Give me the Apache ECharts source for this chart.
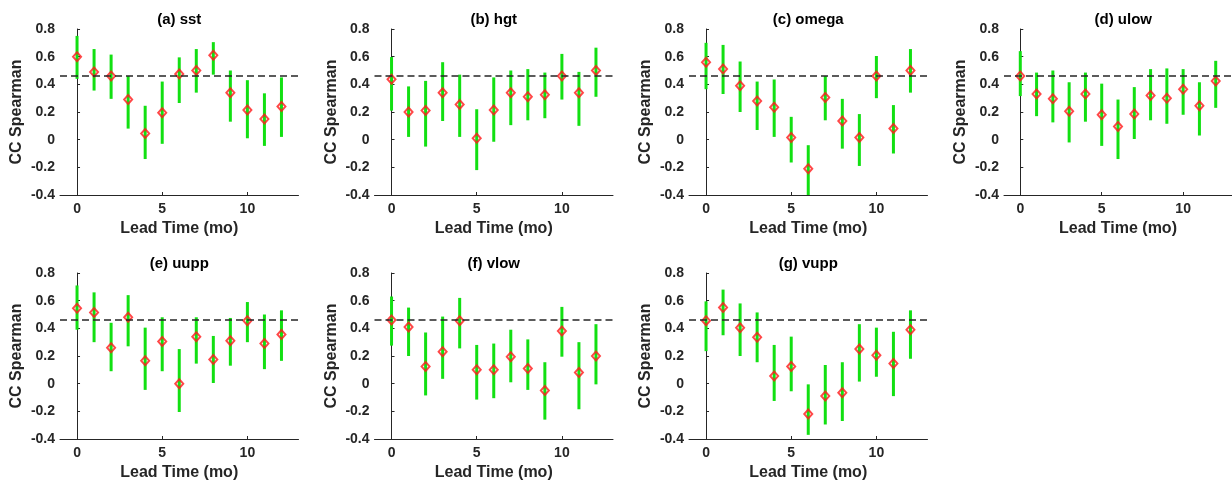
<!DOCTYPE html>
<html>
<head>
<meta charset="utf-8">
<script src="https://cdn.jsdelivr.net/npm/echarts@6/dist/echarts.min.js"></script>
<style>
  html, body { margin: 0; padding: 0; background: #fff; }
  #main { width: 1232px; height: 482px; }
</style>
</head>
<body>
<div id="main"></div>
<script>
// lead times (months) shared by every panel
const leadTimes = [0, 1, 2, 3, 4, 5, 6, 7, 8, 9, 10, 11, 12];
const xTicks = [0, 5, 10];
const threshold = 0.455;

// (a) sst
const sstMid = [0.60, 0.49, 0.46, 0.29, 0.045, 0.195, 0.475, 0.50, 0.61, 0.34, 0.215, 0.15, 0.24];
const sstLo  = [0.44, 0.355, 0.295, 0.08, -0.14, -0.03, 0.265, 0.34, 0.47, 0.13, 0.01, -0.045, 0.02];
const sstHi  = [0.75, 0.655, 0.615, 0.46, 0.245, 0.42, 0.595, 0.655, 0.705, 0.50, 0.43, 0.335, 0.45];

// (b) hgt
const hgtMid = [0.437, 0.20, 0.21, 0.34, 0.255, 0.01, 0.215, 0.34, 0.31, 0.325, 0.46, 0.34, 0.50];
const hgtLo  = [0.21, 0.02, -0.05, 0.135, 0.02, -0.22, -0.015, 0.105, 0.14, 0.155, 0.29, 0.10, 0.31];
const hgtHi  = [0.597, 0.385, 0.425, 0.56, 0.47, 0.22, 0.45, 0.50, 0.51, 0.485, 0.62, 0.49, 0.665];

// (c) omega
const omegaMid = [0.56, 0.51, 0.39, 0.28, 0.235, 0.015, -0.21, 0.305, 0.135, 0.015, 0.46, 0.08, 0.50];
const omegaLo  = [0.365, 0.33, 0.20, 0.07, 0.02, -0.165, -0.42, 0.14, -0.065, -0.19, 0.30, -0.10, 0.34];
const omegaHi  = [0.70, 0.685, 0.565, 0.42, 0.435, 0.165, -0.04, 0.46, 0.295, 0.185, 0.605, 0.25, 0.655];

// (d) ulow
const ulowMid = [0.46, 0.33, 0.295, 0.205, 0.33, 0.18, 0.095, 0.185, 0.32, 0.30, 0.365, 0.245, 0.425];
const ulowLo  = [0.315, 0.17, 0.125, -0.02, 0.13, -0.045, -0.14, 0.005, 0.14, 0.115, 0.18, 0.03, 0.23];
const ulowHi  = [0.64, 0.485, 0.50, 0.415, 0.485, 0.405, 0.29, 0.38, 0.51, 0.515, 0.51, 0.415, 0.57];

// (e) uupp
const uuppMid = [0.545, 0.515, 0.26, 0.48, 0.165, 0.305, 0.0, 0.34, 0.175, 0.31, 0.455, 0.29, 0.355];
const uuppLo  = [0.39, 0.30, 0.09, 0.27, -0.045, 0.09, -0.205, 0.145, 0.005, 0.13, 0.30, 0.105, 0.165];
const uuppHi  = [0.71, 0.66, 0.44, 0.64, 0.405, 0.48, 0.25, 0.48, 0.345, 0.475, 0.59, 0.50, 0.53];

// (f) vlow
const vlowMid = [0.46, 0.41, 0.125, 0.23, 0.455, 0.10, 0.10, 0.195, 0.11, -0.05, 0.38, 0.08, 0.20];
const vlowLo  = [0.275, 0.20, -0.085, 0.035, 0.255, -0.115, -0.105, 0.01, -0.045, -0.26, 0.195, -0.185, -0.005];
const vlowHi  = [0.63, 0.55, 0.37, 0.485, 0.62, 0.28, 0.29, 0.39, 0.32, 0.155, 0.555, 0.30, 0.43];

// (g) vupp
const vuppMid = [0.455, 0.55, 0.405, 0.335, 0.055, 0.125, -0.22, -0.09, -0.065, 0.25, 0.205, 0.145, 0.39];
const vuppLo  = [0.235, 0.35, 0.20, 0.155, -0.125, -0.055, -0.37, -0.295, -0.27, 0.015, 0.05, -0.09, 0.18];
const vuppHi  = [0.595, 0.68, 0.58, 0.515, 0.28, 0.34, -0.005, 0.135, 0.155, 0.43, 0.405, 0.375, 0.53];

const panels = [
  { title: '(a) sst',   mid: sstMid,   lo: sstLo,   hi: sstHi },
  { title: '(b) hgt',   mid: hgtMid,   lo: hgtLo,   hi: hgtHi },
  { title: '(c) omega', mid: omegaMid, lo: omegaLo, hi: omegaHi },
  { title: '(d) ulow',  mid: ulowMid,  lo: ulowLo,  hi: ulowHi },
  { title: '(e) uupp',  mid: uuppMid,  lo: uuppLo,  hi: uuppHi },
  { title: '(f) vlow',  mid: vlowMid,  lo: vlowLo,  hi: vlowHi },
  { title: '(g) vupp',  mid: vuppMid,  lo: vuppLo,  hi: vuppHi }
];

// layout (px)
const colLeft = [60, 374.5, 689, 1004];
const rowTop = [29, 273];
const rowHeight = [166, 167];
const plotWidth = 238.5;

const font = 'Arial, "Liberation Sans", Helvetica, sans-serif';
const ink = '#262626';
const barGreen = '#12e012';
const markerRed = '#ff1a1a';

const chart = echarts.init(document.getElementById('main'), null, { renderer: 'canvas' });

const grid = [], xAxis = [], yAxis = [], title = [], series = [];

panels.forEach((p, i) => {
  const col = i % 4, row = Math.floor(i / 4);
  const left = colLeft[col], top = rowTop[row], h = rowHeight[row];

  grid.push({ left: left, top: top, width: plotWidth, height: h, containLabel: false });

  title.push({
    text: p.title,
    left: left + plotWidth / 2,
    top: top - 17,
    textAlign: 'center',
    padding: 0,
    textStyle: { fontFamily: font, fontWeight: 'bold', fontSize: 15, color: '#000' }
  });

  xAxis.push({
    type: 'value', gridIndex: i, min: -1, max: 13,
    name: 'Lead Time (mo)', nameLocation: 'middle', nameGap: 26,
    nameTextStyle: { fontFamily: font, fontWeight: 'bold', fontSize: 16, color: ink },
    axisLine: { onZero: false, lineStyle: { color: ink, width: 1 } },
    axisTick: { inside: true, length: 3, customValues: xTicks, lineStyle: { color: ink } },
    axisLabel: { customValues: xTicks, margin: 7, fontFamily: font, fontWeight: 'bold', fontSize: 14, color: ink },
    splitLine: { show: false }
  });

  yAxis.push({
    type: 'value', gridIndex: i, min: -0.4, max: 0.8, interval: 0.2,
    name: 'CC Spearman', nameLocation: 'middle', nameGap: 35,
    nameTextStyle: { fontFamily: font, fontWeight: 'bold', fontSize: 16, color: ink },
    axisLine: { show: true, lineStyle: { color: ink, width: 1 } },
    axisTick: { show: true, inside: true, length: 3, lineStyle: { color: ink } },
    axisLabel: {
      margin: 5, fontFamily: font, fontWeight: 'bold', fontSize: 14, color: ink,
      formatter: v => Math.abs(v) < 1e-9 ? '0' : v.toFixed(1)
    },
    splitLine: { show: false }
  });

  // error bars
  series.push({
    type: 'custom', xAxisIndex: i, yAxisIndex: i, clip: true,
    data: leadTimes.map((t, k) => [t, p.lo[k], p.hi[k]]),
    renderItem: (params, api) => {
      const a = api.coord([api.value(0), api.value(1)]);
      const b = api.coord([api.value(0), api.value(2)]);
      return {
        type: 'line',
        shape: { x1: a[0], y1: a[1], x2: b[0], y2: b[1] },
        style: { stroke: barGreen, lineWidth: 3 }
      };
    },
    z: 2
  });

  // centre markers + threshold line
  series.push({
    type: 'scatter', xAxisIndex: i, yAxisIndex: i,
    data: leadTimes.map((t, k) => [t, p.mid[k]]),
    symbol: 'diamond', symbolSize: [8, 9],
    itemStyle: { color: 'rgba(0,0,0,0)', borderColor: markerRed, borderWidth: 2 },
    markLine: {
      silent: true, symbol: 'none', animation: false,
      label: { show: false },
      lineStyle: { color: ink, type: [7, 4], width: 1.6 },
      data: [{ yAxis: threshold }]
    },
    z: 3
  });
});

chart.setOption({
  animation: false,
  backgroundColor: '#fff',
  title: title,
  grid: grid,
  xAxis: xAxis,
  yAxis: yAxis,
  series: series
});
</script>
</body>
</html>
